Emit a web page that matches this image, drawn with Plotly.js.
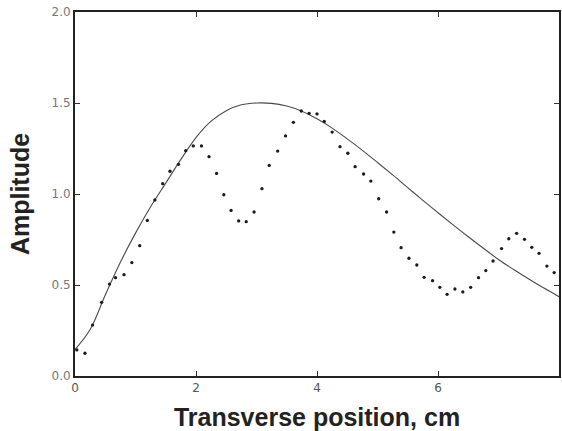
<!DOCTYPE html>
<html>
<head>
<meta charset="utf-8">
<script src="https://cdn.plot.ly/plotly-3.0.1.min.js"></script>
<style>html,body{margin:0;padding:0;background:#fff;}</style>
</head>
<body>
<div id="chart" style="width:562px;height:431px;"></div>
<script>
// Measured amplitude (dots)
var measX = [0.03,0.165,0.29,0.44,0.57,0.67,0.81,0.94,1.07,1.195,1.32,1.45,1.57,1.71,1.83,1.955,2.09,2.215,2.34,2.46,2.58,2.705,2.83,2.96,3.09,3.21,3.35,3.48,3.61,3.74,3.87,4.0,4.12,4.25,4.38,4.51,4.63,4.77,4.89,5.02,5.15,5.27,5.39,5.52,5.65,5.77,5.91,6.03,6.15,6.28,6.41,6.54,6.67,6.79,6.91,7.05,7.17,7.30,7.43,7.55,7.67,7.80,7.92];
var measY = [0.143,0.125,0.28,0.405,0.505,0.54,0.557,0.623,0.716,0.855,0.967,1.057,1.125,1.163,1.238,1.264,1.264,1.205,1.113,0.996,0.91,0.852,0.848,0.901,1.029,1.157,1.236,1.319,1.394,1.456,1.443,1.44,1.399,1.34,1.26,1.224,1.15,1.11,1.071,0.974,0.901,0.791,0.705,0.647,0.61,0.542,0.524,0.487,0.449,0.478,0.462,0.487,0.54,0.579,0.632,0.70,0.754,0.784,0.751,0.707,0.674,0.604,0.568];
// Theoretical curve (solid line)
var curveX = [0,0.25,0.5,0.75,1.0,1.25,1.5,1.75,2.0,2.25,2.5,2.75,3.0,3.25,3.5,3.75,4.0,4.25,4.5,4.75,5.0,5.25,5.5,5.75,6.0,6.25,6.5,6.75,7.0,7.25,7.5,7.75,8.0];
var curveY = [0.145,0.255,0.445,0.625,0.785,0.93,1.06,1.19,1.31,1.40,1.458,1.49,1.50,1.498,1.483,1.455,1.413,1.362,1.303,1.24,1.173,1.105,1.035,0.965,0.897,0.83,0.765,0.702,0.64,0.585,0.533,0.483,0.436];
var xTicks = [0,2,4,6,8];
var xTickText = ['0','2','4','6','8'];
var yTicks = [0,0.5,1.0,1.5,2.0];
var yTickText = ['0.0','0.5','1.0','1.5','2.0'];

var traces = [
  {x: curveX, y: curveY, mode: 'lines', type: 'scatter', line: {color: '#4a4a4a', width: 1.1, shape: 'spline', smoothing: 1}, hoverinfo: 'skip'},
  {x: measX, y: measY, mode: 'markers', type: 'scatter', marker: {color: '#1a1a1a', size: 3.3}, hoverinfo: 'skip'}
];
var tickFont = {family: 'DejaVu Sans', size: 12, color: '#777'};
var layout = {
  width: 562, height: 431,
  margin: {l: 75, r: 3, t: 12, b: 55},
  paper_bgcolor: '#fff', plot_bgcolor: '#fff',
  showlegend: false,
  xaxis: {
    range: [0, 8], tickmode: 'array', tickvals: xTicks, ticktext: xTickText,
    ticks: 'inside', ticklen: 5, tickwidth: 1, tickcolor: '#333',
    showline: true, linecolor: '#222', linewidth: 2, mirror: 'ticks',
    showgrid: false, zeroline: false, tickfont: {family: 'DejaVu Sans', size: 12, color: '#555'},
    title: {text: 'Transverse position, cm', font: {family: 'Liberation Sans', size: 25, color: '#222', weight: 'bold'}, standoff: 16}
  },
  yaxis: {
    range: [0, 2], tickmode: 'array', tickvals: yTicks, ticktext: yTickText,
    ticks: 'inside', ticklen: 5, tickwidth: 1, tickcolor: '#333',
    showline: true, linecolor: '#222', linewidth: 2, mirror: 'ticks',
    showgrid: false, zeroline: false, tickfont: tickFont,
    title: {text: 'Amplitude', font: {family: 'Liberation Sans', size: 25, color: '#222', weight: 'bold'}, standoff: 15}
  }
};
Plotly.newPlot('chart', traces, layout, {displayModeBar: false, staticPlot: true});
</script>
</body>
</html>
